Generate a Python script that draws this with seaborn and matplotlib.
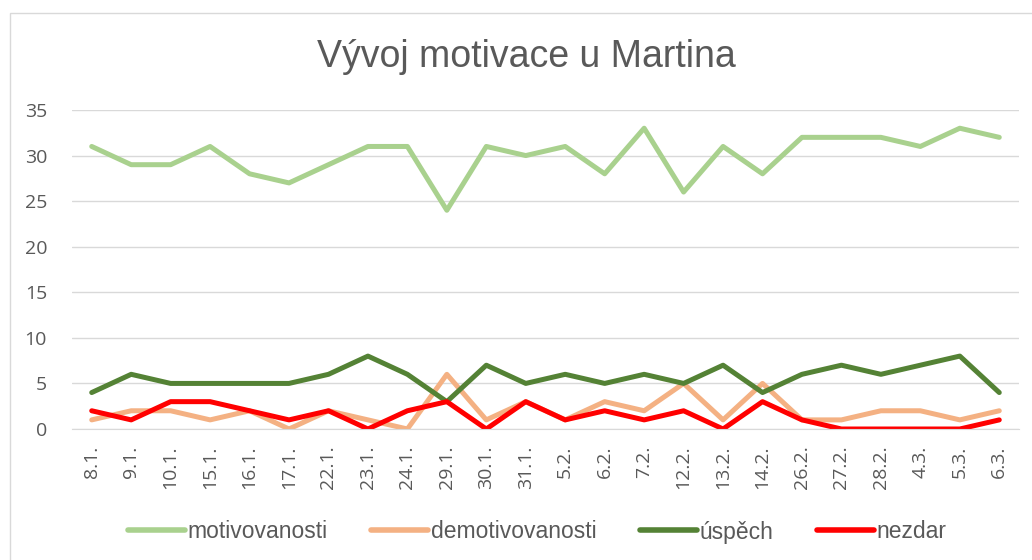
import pandas as pd
import seaborn as sns
import matplotlib.pyplot as plt
from matplotlib.patches import Rectangle

# data
dates = ['8.1.', '9.1.', '10.1.', '15.1.', '16.1.', '17.1.', '22.1.', '23.1.',
         '24.1.', '29.1.', '30.1.', '31.1.', '5.2.', '6.2.', '7.2.', '12.2.',
         '13.2.', '14.2.', '26.2.', '27.2.', '28.2.', '4.3.', '5.3.', '6.3.']
motivovanosti = [31, 29, 29, 31, 28, 27, 29, 31, 31, 24, 31, 30, 31, 28, 33, 26,
                 31, 28, 32, 32, 32, 31, 33, 32]
demotivovanosti = [1, 2, 2, 1, 2, 0, 2, 1, 0, 6, 1, 3, 1, 3, 2, 5,
                   1, 5, 1, 1, 2, 2, 1, 2]
uspech = [4, 6, 5, 5, 5, 5, 6, 8, 6, 3, 7, 5, 6, 5, 6, 5,
          7, 4, 6, 7, 6, 7, 8, 4]
nezdar = [2, 1, 3, 3, 2, 1, 2, 0, 2, 3, 0, 3, 1, 2, 1, 2,
          0, 3, 1, 0, 0, 0, 0, 1]

series = {'motivovanosti': motivovanosti, 'demotivovanosti': demotivovanosti,
          'úspěch': uspech, 'nezdar': nezdar}
colors = {'motivovanosti': '#A9D18E', 'demotivovanosti': '#F4B183',
          'úspěch': '#548235', 'nezdar': '#FF0000'}

rows = []
for name, vals in series.items():
    for d, v in zip(dates, vals):
        rows.append({'datum': d, 'hodnota': v, 'serie': name})
df = pd.DataFrame(rows)

sns.set_style('white')
plt.rcParams['font.family'] = ['Liberation Sans', 'DejaVu Sans']

fig = plt.figure(figsize=(10.32, 5.6), dpi=100)
ax = fig.add_axes([72 / 1032, 1 - 429 / 560, (1019 - 72) / 1032, (429 - 110) / 560])

sns.lineplot(data=df, x='datum', y='hodnota', hue='serie', palette=colors,
             sort=False, linewidth=3.6, ax=ax)

ax.set_xlim(-0.5, len(dates) - 0.5)
ax.set_ylim(0, 35)
ax.set_yticks(range(0, 36, 5))
ax.yaxis.grid(True, color='#D9D9D9', linewidth=1)
ax.set_axisbelow(True)
for s in ['top', 'right', 'left']:
    ax.spines[s].set_visible(False)
ax.spines['bottom'].set_color('#D9D9D9')
ax.set_xlabel('')
ax.set_ylabel('')
ax.tick_params(axis='both', length=0, colors='#595959')
ax.tick_params(axis='x', pad=12)
ax.tick_params(axis='y', pad=18)
plt.setp(ax.get_xticklabels(), rotation=90)
for lab in ax.get_xticklabels() + ax.get_yticklabels():
    lab.set_fontfamily(['Open Sans', 'DejaVu Sans'])
    lab.set_fontsize(14)

fig.text(526 / 1032, 1 - 57 / 560, 'Vývoj motivace u Martina', ha='center',
         va='center', fontsize=27, color='#595959')

leg = ax.legend(loc='center',
                bbox_to_anchor=((537 - 72) / 947, (429 - 532) / (429 - 110)),
                bbox_transform=ax.transAxes, ncol=4, frameon=False, fontsize=16.5,
                handlelength=2.5, handletextpad=0.1, columnspacing=1.9,
                labelcolor='#595959')
for h in leg.get_lines():
    h.set_linewidth(4)
    h.set_solid_capstyle('round')

fig.patches.append(Rectangle((10 / 1032, -0.1), 1.1, 1 - 13 / 560 + 0.1,
                             transform=fig.transFigure, fill=False,
                             edgecolor='#D9D9D9', linewidth=1))

fig.savefig('out.png', dpi=100)
